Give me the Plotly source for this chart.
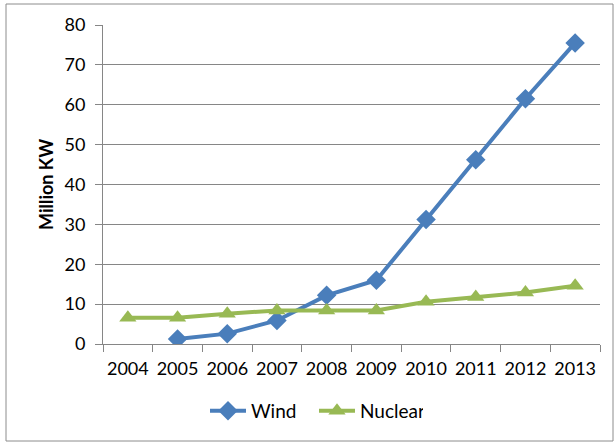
import plotly.graph_objects as go

years = ["2004", "2005", "2006", "2007", "2008", "2009", "2010", "2011", "2012", "2013"]
wind = [None, 1.26, 2.6, 5.9, 12.2, 16.0, 31.2, 46.2, 61.5, 75.5]
nuclear = [6.6, 6.6, 7.6, 8.4, 8.4, 8.4, 10.6, 11.8, 12.9, 14.6]
y_ticks = [0, 10, 20, 30, 40, 50, 60, 70, 80]

FONT = "Lato"
W, H = 616, 444
L, R, T, B = 103, 16, 25, 100
pw, ph = W - L - R, H - T - B

def px2paper(x, y):
    return (x - L) / pw, (H - B - y) / ph

fig = go.Figure()
fig.add_trace(go.Scatter(
    x=years, y=wind, name="Wind", mode="lines+markers",
    line=dict(color="#4A7EBB", width=4),
    marker=dict(symbol="diamond", size=15, color="#4A7EBB"),
))
fig.add_trace(go.Scatter(
    x=years, y=nuclear, name="Nuclear", mode="lines+markers",
    line=dict(color="#98B954", width=4),
    marker=dict(symbol="triangle-up", size=15, color="#98B954"),
))

x0, y0 = px2paper(6, 4)
x1, y1 = px2paper(613, 441)
fig.add_shape(type="rect", xref="paper", yref="paper", x0=x0, y0=y1, x1=x1, y1=y0,
              line=dict(color="#8C8C8C", width=1), fillcolor="rgba(0,0,0,0)", layer="below")

ax, ay = px2paper(46, 185)
fig.add_annotation(text="<b>Million KW</b>", xref="paper", yref="paper", x=ax, y=ay,
                   textangle=-90, showarrow=False, xanchor="center", yanchor="middle",
                   font=dict(family=FONT, size=18, color="#000000"))

lx, ly = px2paper(205, 411)
fig.update_layout(
    width=W, height=H,
    margin=dict(l=L, r=R, t=T, b=B),
    paper_bgcolor="white", plot_bgcolor="white",
    font=dict(family=FONT, size=18, color="#000000"),
    showlegend=True,
    legend=dict(orientation="h", x=lx, y=ly, xanchor="left", yanchor="middle",
                entrywidth=58, entrywidthmode="pixels", itemwidth=36,
                font=dict(family=FONT, size=19, color="#000000"), bgcolor="rgba(0,0,0,0)"),
    xaxis=dict(
        type="category", range=[-0.5, 9.5], tickson="boundaries",
        ticks="outside", ticklen=7, tickcolor="#868686", tickangle=0,
        showline=True, linecolor="#868686", linewidth=1,
        showgrid=False, ticklabelstandoff=8,
        tickfont=dict(family=FONT, size=18, color="#000000"),
        fixedrange=True,
    ),
    yaxis=dict(
        range=[0, 80], tickvals=y_ticks, ticks="outside", ticklen=7, tickcolor="#868686",
        showline=True, linecolor="#868686", linewidth=1,
        showgrid=True, gridcolor="#868686", gridwidth=1.3, zeroline=False,
        ticklabelstandoff=6,
        tickfont=dict(family=FONT, size=18, color="#000000"),
        fixedrange=True,
    ),
)
fig.write_html("out.html", config={"displayModeBar": False},
               post_script="document.body.style.margin='0';")
